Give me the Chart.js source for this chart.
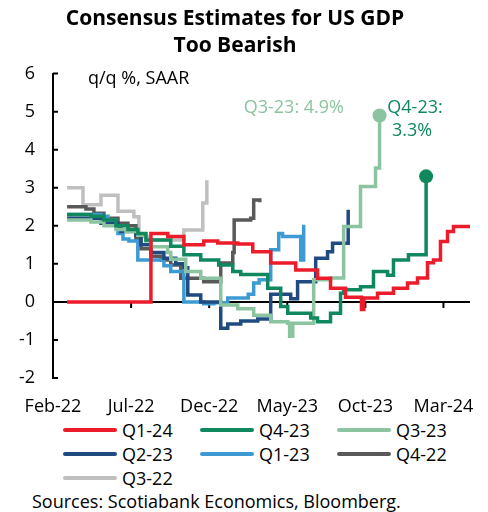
<!DOCTYPE html>
<html>
<head>
<meta charset="utf-8">
<script src="https://cdn.jsdelivr.net/npm/chart.js@4.4.1/dist/chart.umd.min.js"></script>
<style>
    body { margin: 0; background: #fff; font-family: 'Open Sans', sans-serif; }
    #painel { position: relative; width: 488px; height: 512px; }
    #caixaGrafico { position: absolute; left: 0; top: 0; width: 488px; height: 418px; }
    #legenda { position: absolute; left: 63px; top: 418px; display: grid; grid-template-columns: 137px 137px 137px; grid-auto-rows: 24px; }
    .item { display: flex; align-items: center; font-size: 18px; color: #000; }
    .item span.linha { display: inline-block; width: 54px; height: 4px; margin-right: 5px; border-radius: 2px; }
    #fonte { position: absolute; left: 32px; top: 490px; font-size: 18px; line-height: 22px; color: #000; }
</style>
</head>
<body>
<div id="painel">
    <div id="caixaGrafico"><canvas id="dashboardGdp"></canvas></div>
    <div id="legenda"></div>
    <div id="fonte">Sources: Scotiabank Economics, Bloomberg.</div>
</div>
<script>
// meses desde Feb-22 (0 = Feb-22, 5 = Jul-22 ...)
var mesesTicks = [0, 5, 10, 15, 20, 25];
var labelsTicks = ['Feb-22', 'Jul-22', 'Dec-22', 'May-23', 'Oct-23', 'Mar-24'];

var nomesSeries = ['Q1-24', 'Q4-23', 'Q3-23', 'Q2-23', 'Q1-23', 'Q4-22', 'Q3-22'];
var coresSeries = ['#EC1C2A', '#10885E', '#8CC3A0', '#1F4B80', '#3D9AD3', '#595959', '#BFBFBF'];

var q124Mes = [0.9, 6.27, 7.35, 8.38, 9.65, 10.55, 11.83, 12.79, 13.94, 15.54, 16.94, 17.77, 18.73, 19.75, 19.9, 20.78, 21.8, 22.7, 23.34, 23.98, 24.36, 24.81, 25.26, 25.64, 26.73];
var q124Val = [0, 1.8, 1.72, 1.5, 1.6, 1.55, 1.52, 1.32, 1.02, 0.84, 0.62, 0.36, 0.12, -0.2, 0.1, 0.23, 0.36, 0.5, 0.63, 1.03, 1.1, 1.59, 1.85, 1.98, 2.0];

var q423Mes = [0.9, 2.43, 3.26, 4.03, 4.8, 5.43, 5.95, 7.54, 8.38, 9.46, 10.61, 11.51, 12.02, 13.75, 14.58, 15.03, 16.5, 16.94, 17.77, 18.41, 18.61, 19.69, 20.52, 21.42, 21.8, 22.76, 23.89];
var q423Val = [2.3, 2.25, 2.15, 2.0, 1.9, 1.8, 1.63, 1.46, 1.24, 1.1, 0.97, 0.8, 0.72, 0.36, -0.12, -0.3, -0.42, -0.52, -0.3, 0.23, 0.32, 0.4, 0.8, 0.7, 1.1, 1.24, 3.3];

var q323Mes = [0.9, 2.43, 3.26, 4.03, 4.67, 5.43, 5.95, 6.27, 7.35, 7.54, 8.5, 9.46, 10.74, 11.83, 12.85, 13.94, 15.03, 15.15, 15.35, 16.69, 17.77, 18.61, 19.69, 20.65, 20.91];
var q323Val = [2.15, 2.1, 2.0, 1.9, 1.85, 1.75, 1.6, 1.45, 1.3, 1.12, 0.8, 0.62, -0.08, -0.18, -0.35, -0.52, -0.56, -0.9, -0.56, 0.58, 0.63, 1.98, 3.03, 3.52, 4.9];

var q223Mes = [0.9, 3.07, 4.16, 4.35, 5.31, 5.63, 6.27, 7.1, 7.86, 8.38, 8.63, 9.46, 10.74, 11.19, 12.02, 13.11, 13.94, 15.22, 15.66, 16.82, 17.58, 17.9, 18.9];
var q223Val = [2.2, 2.07, 1.95, 1.85, 1.75, 1.5, 1.3, 1.15, 1.0, 0.9, 0.18, 0, -0.69, -0.58, -0.5, -0.45, 0.2, 0.08, 0.53, 1.15, 1.32, 1.54, 2.42];

var q123Mes = [0.9, 3.07, 3.52, 4.03, 4.16, 4.48, 4.86, 5.43, 7.1, 7.54, 8.38, 9.65, 10.3, 11.19, 12.5, 12.85, 13.2, 13.94, 14.45, 14.7, 15.86, 16.05];
var q123Val = [2.3, 2.25, 2.15, 2.0, 1.8, 1.65, 1.6, 1.1, 0.95, 0.8, 0, -0.05, -0.02, 0.1, 0.2, 0.5, 0.58, 1.37, 1.8, 1.72, 1.1, 2.03];

var q422Mes = [0.9, 2.11, 2.62, 3.26, 4.16, 4.8, 5.31, 5.63, 6.27, 6.91, 7.54, 8.18, 9.65, 10.74, 11.51, 11.6, 12.66, 12.85, 13.24];
var q422Val = [2.5, 2.44, 2.33, 2.2, 2.07, 2.0, 1.65, 1.4, 1.2, 1.1, 0.97, 0.62, 0.53, 1.02, 1.3, 2.15, 2.2, 2.68, 2.62];

var q322Mes = [0.9, 1.92, 3.07, 4.16, 5.18, 5.5, 6.07, 8.38, 9.59, 9.85];
var q322Val = [3.0, 2.55, 2.8, 2.38, 2.24, 1.72, 1.63, 1.89, 2.6, 3.2];

var mesesSeries = [q124Mes, q423Mes, q323Mes, q223Mes, q123Mes, q422Mes, q322Mes];
var valoresSeries = [q124Val, q423Val, q323Val, q223Val, q123Val, q422Val, q322Val];
var comPonto = ['Q4-23', 'Q3-23'];

function montarPontos(meses, valores) {
    var pontos = [];
    for (var i = 0; i < meses.length; i++) {
        pontos.push({ x: meses[i], y: valores[i] });
    }
    return pontos;
}

var dadosGdp = { datasets: [] };
for (var i = 0; i < nomesSeries.length; i++) {
    var nome = nomesSeries[i];
    var total = mesesSeries[i].length;
    dadosGdp.datasets.push({
        label: nome,
        data: montarPontos(mesesSeries[i], valoresSeries[i]),
        borderColor: coresSeries[i],
        backgroundColor: coresSeries[i],
        borderWidth: 3.5,
        stepped: true,
        pointRadius: (function (ultimo, temPonto) {
            return function (ctx) { return temPonto && ctx.dataIndex === ultimo ? 7 : 0; };
        })(total - 1, comPonto.indexOf(nome) >= 0),
        pointHoverRadius: 0,
        pointBorderWidth: 0
    });
}

// eixos com marcas para dentro, texto extra
var extrasPlugin = {
    id: 'extras',
    beforeDatasetsDraw: function (chart) {
        var ctx = chart.ctx;
        var x = chart.scales.x;
        var y = chart.scales.y;
        var y0 = y.getPixelForValue(0);
        ctx.save();
        ctx.strokeStyle = '#000';
        ctx.lineWidth = 2;
        ctx.beginPath();
        for (var v = -2; v <= 6; v++) {
            var py = y.getPixelForValue(v);
            ctx.moveTo(x.left, py);
            ctx.lineTo(x.left + 5, py);
        }
        for (var k = 1; k < mesesTicks.length; k++) {
            var px = x.getPixelForValue(mesesTicks[k]);
            ctx.moveTo(px, y0);
            ctx.lineTo(px, y0 + 6);
        }
        ctx.stroke();
        ctx.restore();
    },
    afterDatasetsDraw: function (chart) {
        var ctx = chart.ctx;
        ctx.save();
        ctx.font = "18px 'Open Sans'";
        ctx.textBaseline = 'middle';
        ctx.fillStyle = '#000';
        ctx.textAlign = 'left';
        ctx.fillText('q/q %, SAAR', 88, 79);
        ctx.fillStyle = coresSeries[2];
        ctx.textAlign = 'right';
        ctx.fillText('Q3-23: 4.9%', 344, 108);
        ctx.fillStyle = coresSeries[1];
        ctx.textAlign = 'center';
        ctx.fillText('Q4-23:', 415, 108);
        ctx.fillText('3.3%', 412, 131);
        ctx.restore();
    }
};

Chart.defaults.font.family = "'Open Sans', sans-serif";
Chart.defaults.color = '#000';

var dashboardGdp = new Chart(document.getElementById('dashboardGdp'), {
    type: 'line',
    data: dadosGdp,
    plugins: [extrasPlugin],
    options: {
        responsive: true,
        maintainAspectRatio: false,
        animation: false,
        layout: { padding: { left: 0, right: 18, top: 0, bottom: 0 } },
        plugins: {
            legend: { display: false },
            tooltip: { enabled: false },
            title: {
                display: true,
                text: ['Consensus Estimates for US GDP', 'Too Bearish'],
                font: { size: 21, weight: 'bold', lineHeight: 1.3 },
                color: '#000',
                padding: { top: 5, bottom: 14 }
            }
        },
        scales: {
            x: {
                type: 'linear',
                min: 0,
                max: 26.7,
                grid: { display: false },
                border: { display: false },
                afterFit: function (scale) { scale.height = 40; },
                afterBuildTicks: function (scale) {
                    scale.ticks = mesesTicks.map(function (m) { return { value: m }; });
                },
                ticks: {
                    autoSkip: false,
                    maxRotation: 0,
                    padding: 10,
                    font: { size: 18 },
                    callback: function (value) {
                        var idx = mesesTicks.indexOf(value);
                        return idx >= 0 ? labelsTicks[idx] : '';
                    }
                }
            },
            y: {
                min: -2,
                max: 6,
                afterFit: function (scale) { scale.width = 53; },
                ticks: { stepSize: 1, padding: 18, font: { size: 18 } },
                grid: {
                    drawTicks: false,
                    lineWidth: 2,
                    color: function (ctx) { return ctx.tick && ctx.tick.value === 0 ? '#000' : 'rgba(0,0,0,0)'; }
                },
                border: { display: true, color: '#000', width: 2 }
            }
        }
    }
});

// legenda em html
var legenda = document.getElementById('legenda');
for (var j = 0; j < nomesSeries.length; j++) {
    var item = document.createElement('div');
    item.className = 'item';
    item.innerHTML = `<span class="linha" style="background:${coresSeries[j]}"></span>${nomesSeries[j]}`;
    legenda.appendChild(item);
}
</script>
</body>
</html>
